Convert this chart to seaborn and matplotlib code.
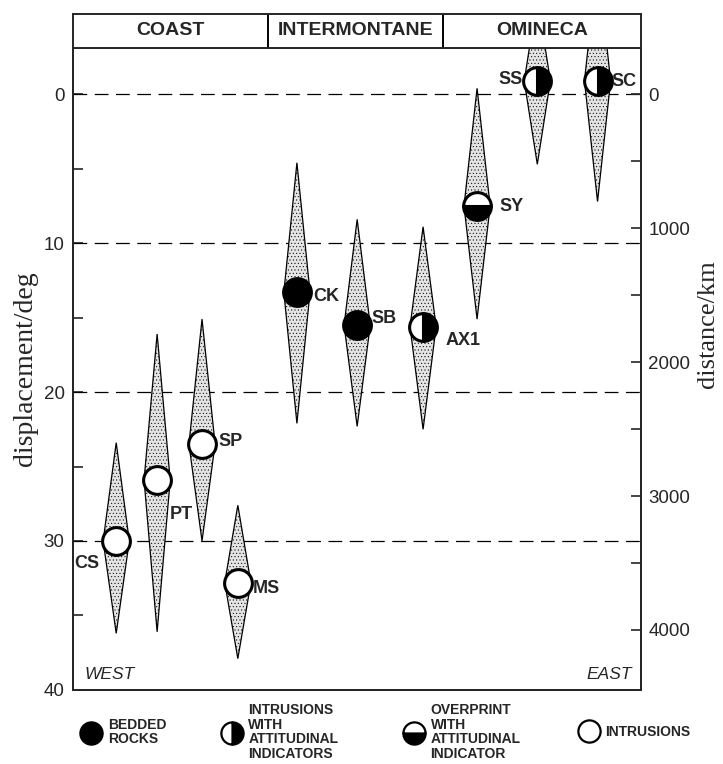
import matplotlib
matplotlib.use("Agg")
import matplotlib.pyplot as plt
from matplotlib.lines import Line2D
from matplotlib.patches import Polygon
import seaborn as sns

# Sample sites, west to east (x in arbitrary 0-100 across-belt units)
sites = ['CS', 'PT', 'SP', 'MS', 'CK', 'SB', 'AX1', 'SY', 'SS', 'SC']
xpos = [7.6, 14.8, 22.7, 29.0, 39.4, 50.0, 61.6, 71.1, 81.7, 92.3]
disp = [30.0, 25.9, 23.5, 32.8, 13.3, 15.5, 15.6, 7.5, -0.9, -0.9]
disp_top = [23.4, 16.1, 15.1, 27.6, 4.6, 8.4, 8.9, -0.4, -6.5, -9.0]
disp_bot = [36.2, 36.1, 30.0, 37.9, 22.1, 22.3, 22.5, 15.1, 4.7, 7.2]
kind = ['intr', 'intr', 'intr', 'intr', 'bed', 'bed', 'intr_att', 'over', 'intr_att', 'intr_att']

provinces = ['COAST', 'INTERMONTANE', 'OMINECA']
prov_edges = [0, 34.3, 65.1, 100]

grid_deg = [0, 10, 20, 30]
km_per_deg = 111.2

# marker style per kind
mstyle = {
    'bed': dict(mfc='black', fillstyle='full'),
    'intr_att': dict(mfc='black', mfcalt='white', fillstyle='right'),
    'over': dict(mfc='black', mfcalt='white', fillstyle='bottom'),
    'intr': dict(mfc='white', fillstyle='full'),
}
legend_text = {
    'bed': 'BEDDED\nROCKS',
    'intr_att': 'INTRUSIONS\nWITH\nATTITUDINAL\nINDICATORS',
    'over': 'OVERPRINT\nWITH\nATTITUDINAL\nINDICATOR',
    'intr': 'INTRUSIONS',
}
legend_order = ['bed', 'intr_att', 'over', 'intr']
legend_x = [0.113, 0.307, 0.559, 0.801]

# label offsets (pixels) relative to each circle
lab_off = {
    'CS': (-29, -23, 'center'), 'PT': (13, -35, 'left'), 'SP': (16, 3, 'left'),
    'MS': (15, -6, 'left'), 'CK': (16, -4, 'left'), 'SB': (14, 7, 'left'),
    'AX1': (22, -14, 'left'), 'SY': (22, -1, 'left'), 'SS': (-15, 1, 'right'),
    'SC': (14, -1, 'left'),
}

sns.set_style('ticks')
plt.rcParams['font.family'] = ['Liberation Sans', 'DejaVu Sans']
plt.rcParams['hatch.linewidth'] = 0.35

fig = plt.figure(figsize=(7.23, 7.64), dpi=100)
ax = fig.add_axes([0.101, 0.097, 0.786, 0.840])

half_w = 2.3
for x, top, bot, mid in zip(xpos, disp_top, disp_bot, disp):
    poly = Polygon([(x, top), (x + half_w, mid), (x, bot), (x - half_w, mid)],
                   closed=True, facecolor='#e4e4e4', edgecolor='black',
                   hatch='.....', linewidth=0.9, zorder=2)
    ax.add_patch(poly)

for d in grid_deg:
    ax.axhline(d, color='black', lw=0.9, dashes=(11, 6), zorder=1)

for x, y, k, s in zip(xpos, disp, kind, sites):
    st = mstyle[k]
    ax.plot([x], [y], marker='o', markersize=20, markeredgecolor='black',
            markeredgewidth=2.2, markerfacecolor=st['mfc'],
            markerfacecoloralt=st.get('mfcalt', 'white'),
            fillstyle=st['fillstyle'], linestyle='none', zorder=4)
    dx, dy, ha = lab_off[s]
    ax.annotate(s, (x, y), xytext=(dx, dy), textcoords='offset pixels',
                ha=ha, va='center', fontsize=13, fontweight='bold', zorder=5)

ax.set_xlim(0, 100)
ax.set_ylim(40, -3.1)
ax.set_xticks([])
ax.set_yticks([0, 10, 20, 30, 40])
ax.set_yticks([5, 15, 25, 35], minor=True)
ax.tick_params(axis='y', which='both', direction='in', length=7, width=1.2,
               labelsize=13.5, pad=6)
for sp in ax.spines.values():
    sp.set_linewidth(1.4)
ax.set_ylabel('displacement/deg', family='Liberation Serif', fontsize=20, labelpad=4)

ax.text(0.02, 0.012, 'WEST', transform=ax.transAxes, style='italic',
        fontsize=12.5, ha='left', va='bottom')
ax.text(0.984, 0.012, 'EAST', transform=ax.transAxes, style='italic',
        fontsize=12.5, ha='right', va='bottom')

# distance axis on the right
ax2 = ax.twinx()
ax2.set_ylim(40 * km_per_deg, -3.1 * km_per_deg)
ax2.set_yticks([0, 1000, 2000, 3000, 4000])
ax2.set_yticks([500, 1500, 2500, 3500], minor=True)
ax2.tick_params(axis='y', which='both', direction='in', length=7, width=1.2,
                labelsize=13.5, pad=5)
for sp in ax2.spines.values():
    sp.set_linewidth(1.4)
ax2.set_ylabel('distance/km', family='Liberation Serif', fontsize=19,
               rotation=90, va='center', ha='center')
ax2.yaxis.set_label_coords(1.118, 0.57)

# province header
hax = fig.add_axes([0.101, 0.937, 0.786, 0.045])
hax.set_xlim(0, 100)
hax.set_ylim(0, 1)
hax.set_xticks([])
hax.set_yticks([])
for sp in hax.spines.values():
    sp.set_linewidth(1.4)
for e in prov_edges[1:-1]:
    hax.axvline(e, color='black', lw=1.4)
for name, a, b in zip(provinces, prov_edges[:-1], prov_edges[1:]):
    hax.text((a + b) / 2, 0.5, name, ha='center', va='center',
             fontsize=14, fontweight='bold')

# legend
for k, lx in zip(legend_order, legend_x):
    st = mstyle[k]
    h = Line2D([], [], marker='o', markersize=16, markeredgecolor='black',
               markeredgewidth=1.6, markerfacecolor=st['mfc'],
               markerfacecoloralt=st.get('mfcalt', 'white'),
               fillstyle=st['fillstyle'], linestyle='none')
    leg = fig.legend(handles=[h], labels=[legend_text[k]], loc='center left',
                     bbox_to_anchor=(lx, 0.042), frameon=False, handlelength=1.4,
                     handletextpad=0.5, borderpad=0, borderaxespad=0,
                     prop=dict(size=10, weight='bold'), labelspacing=0)
    for t in leg.get_texts():
        t.set_linespacing(1.05)

fig.savefig('out.png', dpi=100)
